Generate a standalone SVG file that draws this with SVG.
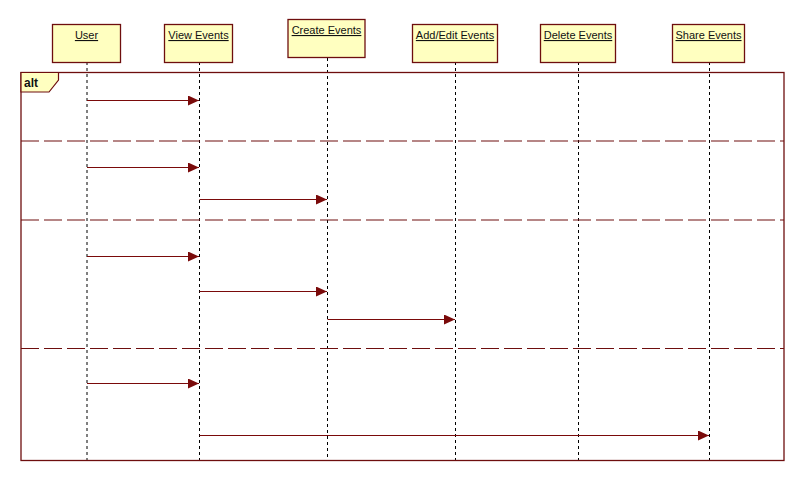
<svg xmlns="http://www.w3.org/2000/svg" width="804" height="480" viewBox="0 0 804 480">
<style>
.box{fill:#ffffc0;stroke:#6e0e0e;stroke-width:1.3}
.lbl{font-family:"Liberation Sans",Arial,sans-serif;font-size:11px;fill:#111;text-anchor:middle;text-decoration:underline}
.life{stroke:#000;stroke-width:1;stroke-dasharray:3,3;fill:none}
.msg{stroke:#7a0a0a;stroke-width:1;fill:none;marker-end:url(#ah)}
.div{stroke:#6e0e0e;stroke-width:1.2;stroke-dasharray:18,5;fill:none}
</style>
<defs>
<marker id="ah" markerWidth="11" markerHeight="10" refX="11" refY="5" orient="auto" markerUnits="userSpaceOnUse">
<path d="M0,0 L11,5 L0,10 Z" fill="#7a0a0a"/>
</marker>
</defs>
<rect width="804" height="480" fill="#fff"/>
<g id="lifelines">
<line class="life" x1="87" y1="62" x2="87" y2="460"/>
<line class="life" x1="199.5" y1="62" x2="199.5" y2="460"/>
<line class="life" x1="327.5" y1="58" x2="327.5" y2="460"/>
<line class="life" x1="455.5" y1="62" x2="455.5" y2="460"/>
<line class="life" x1="578.5" y1="62" x2="578.5" y2="460"/>
<line class="life" x1="709.5" y1="62" x2="709.5" y2="460"/>
</g>
<g id="frame">
<rect x="21" y="72.5" width="763" height="388" fill="none" stroke="#6e0e0e" stroke-width="1.3"/>
<path d="M21,72.5 L58.5,72.5 L58.5,80 L49,92 L21,92 Z" fill="#ffffc0" stroke="#6e0e0e" stroke-width="1.2"/>
<text x="24" y="87" font-family="'Liberation Sans',Arial,sans-serif" font-size="12" font-weight="bold" fill="#111">alt</text>
<line class="div" x1="21" y1="141" x2="784" y2="141"/>
<line class="div" x1="21" y1="220" x2="784" y2="220"/>
<line class="div" x1="21" y1="348.5" x2="784" y2="348.5"/>
</g>
<g id="node-user"><rect class="box" x="52.5" y="24.5" width="68" height="38"/><text class="lbl" x="86.5" y="39">User</text></g>
<g id="node-view"><rect class="box" x="164.5" y="24.5" width="68" height="38"/><text class="lbl" x="198.5" y="39">View Events</text></g>
<g id="node-create"><rect class="box" x="288" y="19.5" width="77" height="38"/><text class="lbl" x="326.5" y="34">Create Events</text></g>
<g id="node-addedit"><rect class="box" x="412.5" y="24.5" width="85" height="38"/><text class="lbl" x="455" y="39">Add/Edit Events</text></g>
<g id="node-delete"><rect class="box" x="540.5" y="24.5" width="75" height="38"/><text class="lbl" x="578" y="39">Delete Events</text></g>
<g id="node-share"><rect class="box" x="672.5" y="24.5" width="72" height="38"/><text class="lbl" x="708.5" y="39">Share Events</text></g>
<g id="connectors">
<line class="msg" x1="87" y1="100.5" x2="199" y2="100.5"/>
<line class="msg" x1="87" y1="167.5" x2="199" y2="167.5"/>
<line class="msg" x1="199.5" y1="199.5" x2="327" y2="199.5"/>
<line class="msg" x1="87" y1="256.5" x2="199" y2="256.5"/>
<line class="msg" x1="199.5" y1="291.5" x2="327" y2="291.5"/>
<line class="msg" x1="327.5" y1="319.5" x2="455" y2="319.5"/>
<line class="msg" x1="87" y1="383.5" x2="199" y2="383.5"/>
<line class="msg" x1="199.5" y1="435.5" x2="709" y2="435.5"/>
</g>
</svg>
